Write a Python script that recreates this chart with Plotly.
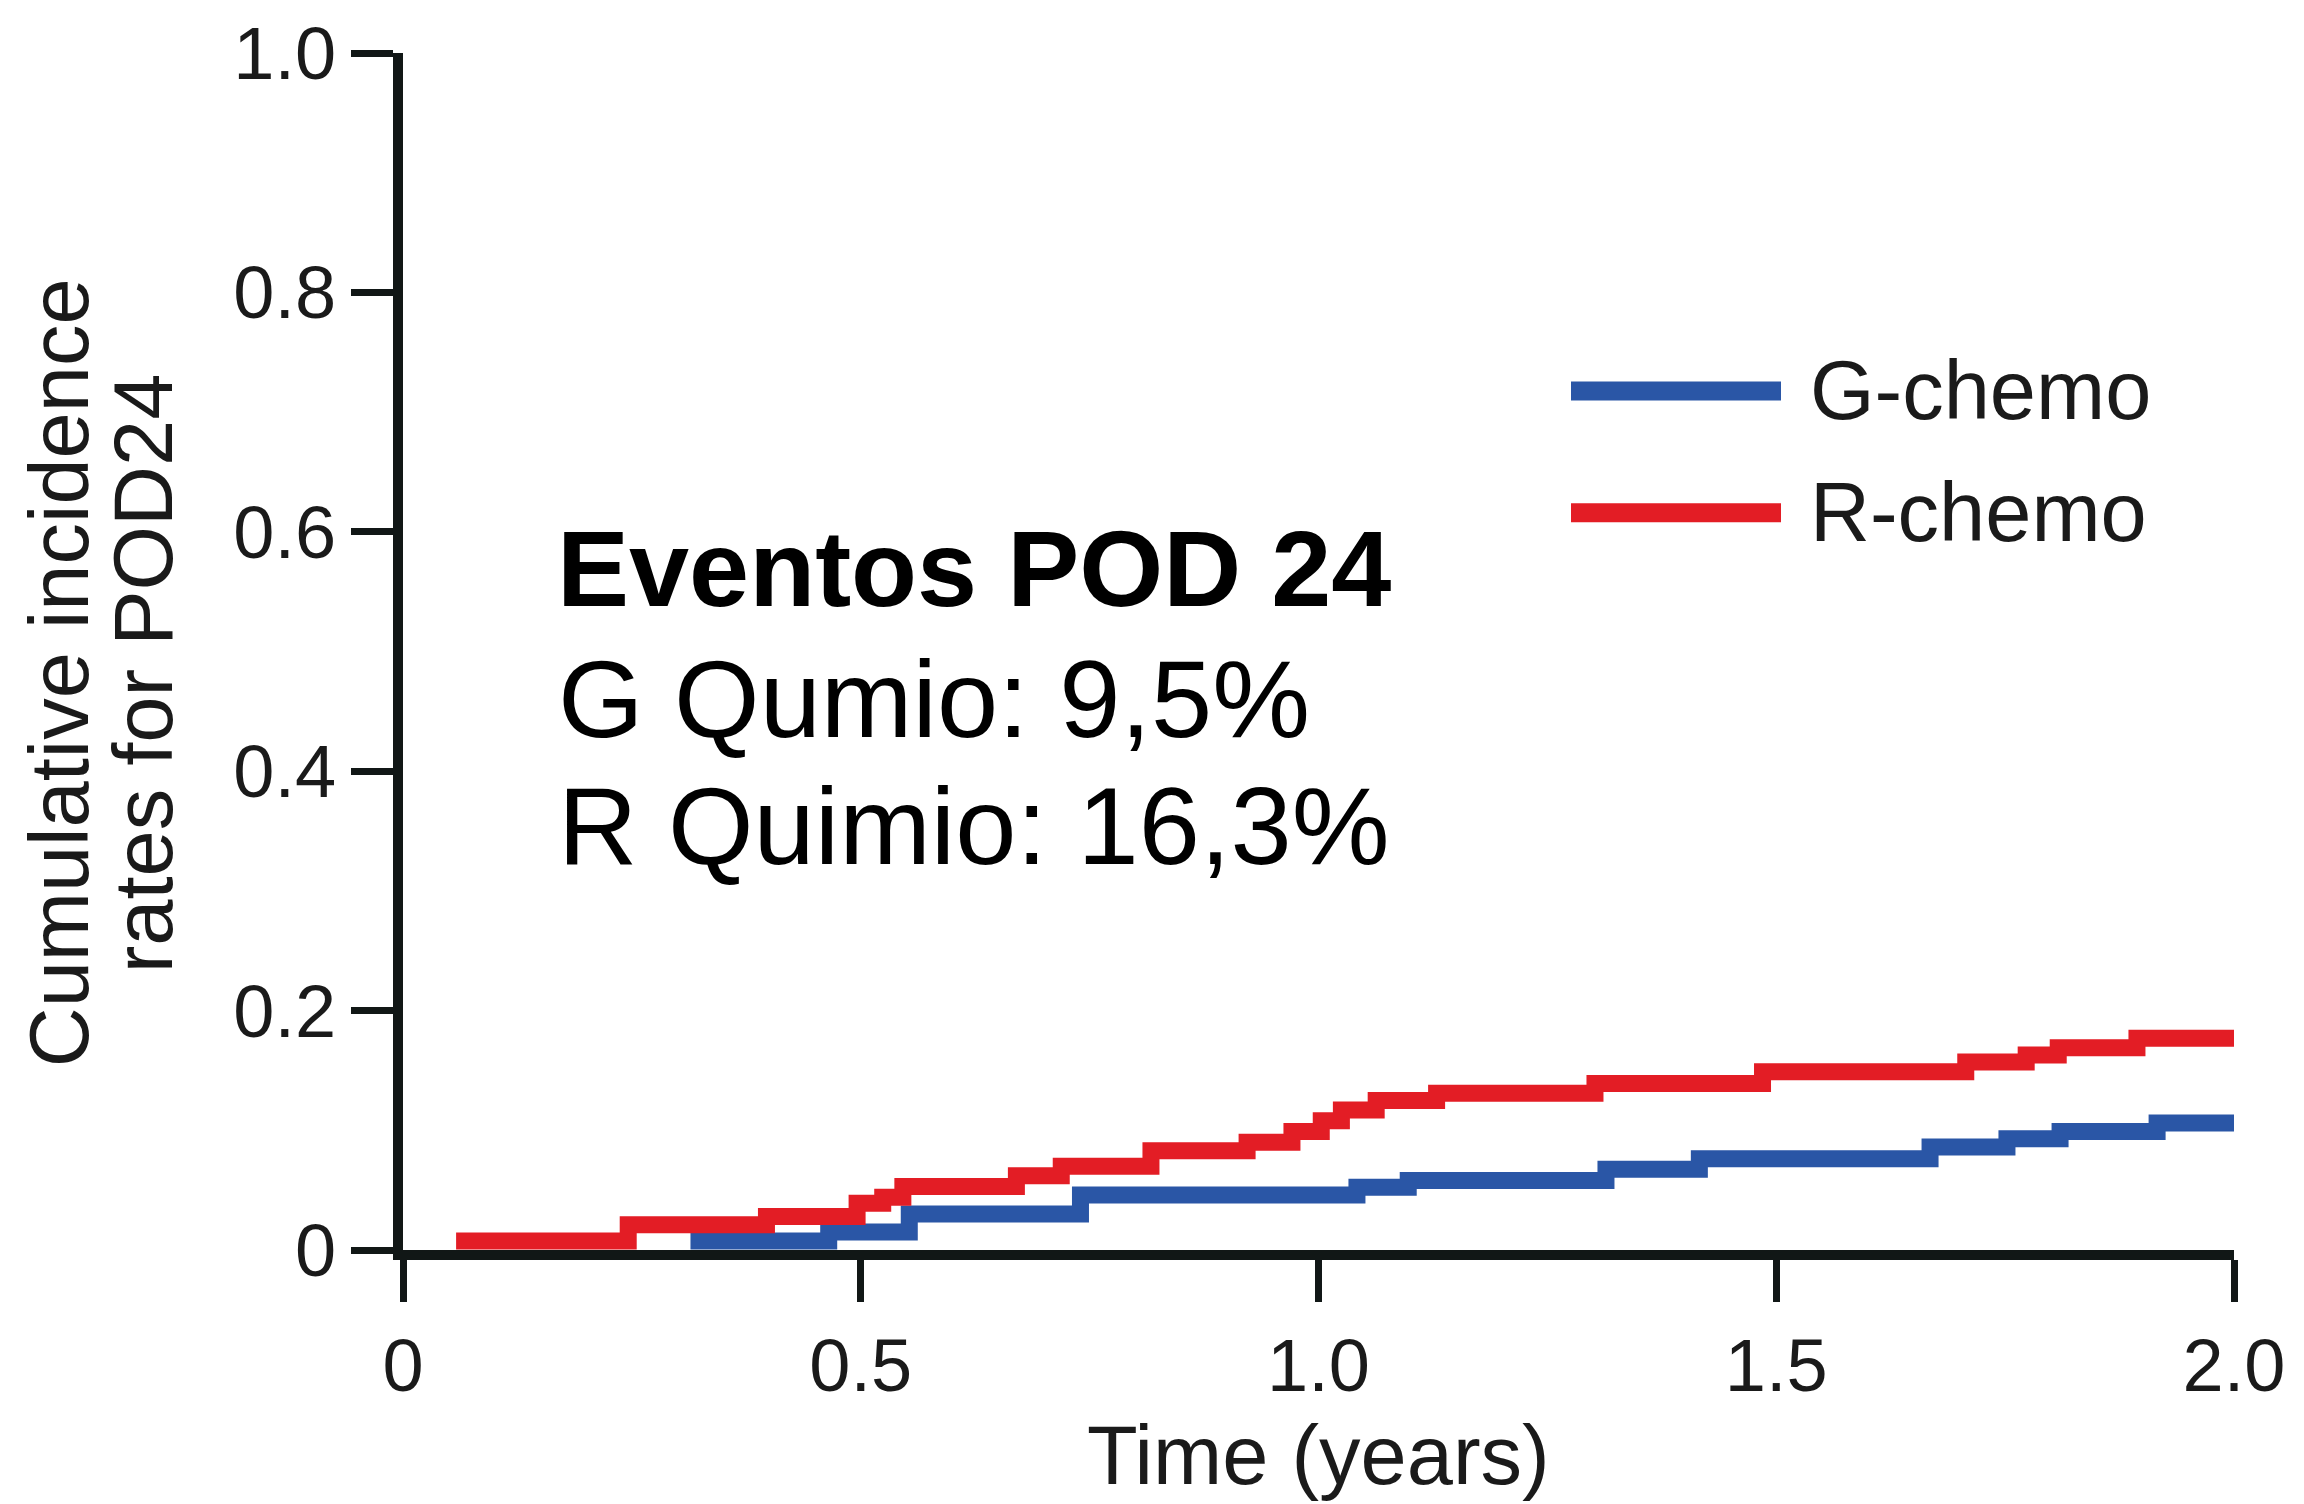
import plotly.graph_objects as go

# Cumulative incidence of POD24 (step functions), time in years
time_g = [0.314, 0.465, 0.553, 0.740, 1.042, 1.098, 1.314, 1.416, 1.668, 1.752, 1.810, 1.916, 2.0]
cif_g = [0.0075, 0.015, 0.030, 0.046, 0.0525, 0.058, 0.0675, 0.0762, 0.086, 0.093, 0.099, 0.106, 0.106]

time_r = [0.058, 0.246, 0.397, 0.496, 0.524, 0.546, 0.670, 0.719, 0.817, 0.922, 0.971, 1.003,
          1.025, 1.063, 1.129, 1.302, 1.485, 1.707, 1.773, 1.808, 1.894, 2.0]
cif_r = [0.0075, 0.021, 0.028, 0.039, 0.044, 0.053, 0.062, 0.070, 0.083, 0.090, 0.099, 0.108,
         0.117, 0.125, 0.131, 0.139, 0.149, 0.157, 0.163, 0.169, 0.177, 0.177]

series_names = ["G-chemo", "R-chemo"]
series_colors = ["#2A56A6", "#E31D25"]

x_ticks = [0, 0.5, 1.0, 1.5, 2.0]
x_tick_text = ["0", "0.5", "1.0", "1.5", "2.0"]
y_ticks = [0, 0.2, 0.4, 0.6, 0.8, 1.0]
y_tick_text = ["0", "0.2", "0.4", "0.6", "0.8", "1.0"]

box_title = "Eventos POD 24"
box_lines = ["G Qumio: 9,5%", "R Quimio: 16,3%"]

FONT = "Liberation Sans, Arial, Helvetica, sans-serif"
INK = "#111716"

W, H = 2304, 1504
ML, MR, MT, MB = 403, 70, 42, 254
PW, PH = W - ML - MR, H - MT - MB


def px(x):
    return (x - ML) / PW


def py(y):
    return (H - MB - y) / PH


fig = go.Figure()
for t, v, name, col in [(time_g, cif_g, series_names[0], series_colors[0]),
                        (time_r, cif_r, series_names[1], series_colors[1])]:
    fig.add_trace(go.Scatter(x=t, y=v, mode="lines", name=name,
                             line=dict(color=col, width=17, shape="hv"),
                             showlegend=False))

axis_common = dict(showline=True, linecolor=INK, linewidth=10, ticks="outside",
                   ticklen=42, tickwidth=7, tickcolor=INK, showgrid=False,
                   zeroline=False, tickfont=dict(family=FONT, size=74, color="#1a1a1a"))

fig.update_xaxes(range=[0, 2.0], tickvals=x_ticks, ticktext=x_tick_text, **axis_common)
fig.update_yaxes(range=[0, 1.0], tickvals=y_ticks, ticktext=y_tick_text, **axis_common)

ann = []
# axis titles
ann.append(dict(text="Cumulative incidence", x=px(59), y=py(668), textangle=-90,
                font=dict(family=FONT, size=83, color="#1a1a1a")))
ann.append(dict(text="rates for POD24", x=px(143), y=py(668), textangle=-90,
                font=dict(family=FONT, size=83, color="#1a1a1a")))
ann.append(dict(text="Time (years)", x=px(1318), y=py(1457),
                font=dict(family=FONT, size=83, color="#1a1a1a")))

# text block
ann.append(dict(text="<b>" + box_title + "</b>", x=px(555), y=py(562), xanchor="left",
                font=dict(family=FONT, size=108, color="#000000")))
for yy, line in zip([693, 822], box_lines):
    ann.append(dict(text=line, x=px(556), y=py(yy), xanchor="left",
                    font=dict(family=FONT, size=110, color="#000000")))

# legend
shapes = []
for yy, name, col in zip([383, 506], series_names, series_colors):
    shapes.append(dict(type="line", xref="paper", yref="paper", x0=px(1571), x1=px(1781),
                       y0=py(yy), y1=py(yy), line=dict(color=col, width=19)))
    ann.append(dict(text=name, x=px(1808), y=py(yy), xanchor="left",
                    font=dict(family=FONT, size=83, color="#1a1a1a")))

for a in ann:
    a.update(xref="paper", yref="paper", showarrow=False)
    a.setdefault("xanchor", "center")
    a.setdefault("yanchor", "middle")

fig.update_layout(width=W, height=H, margin=dict(l=ML, r=MR, t=MT, b=MB),
                  plot_bgcolor="white", paper_bgcolor="white",
                  annotations=ann, shapes=shapes, showlegend=False)

fig.write_html("out.html")
